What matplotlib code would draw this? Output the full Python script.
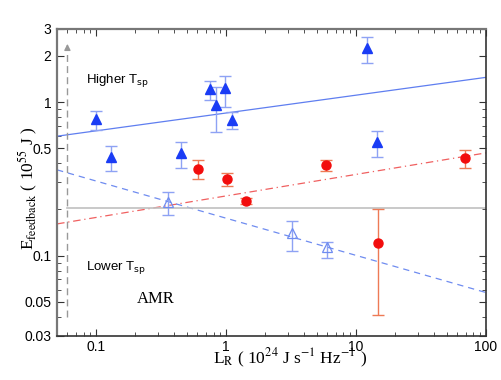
import numpy as np
import matplotlib
matplotlib.use('Agg')
from matplotlib import pyplot as plt
from matplotlib.ticker import NullFormatter, LogLocator

# filled blue triangles (higher T_sp)
hi_x = [0.10, 0.13, 0.45, 0.75, 0.84, 0.98, 1.11, 12.1, 14.5]
hi_y = [0.775, 0.44, 0.467, 1.21, 0.956, 1.23, 0.765, 2.24, 0.55]
hi_lo = [0.658, 0.357, 0.373, 1.03, 0.64, 0.93, 0.67, 1.79, 0.44]
hi_up = [0.874, 0.518, 0.55, 1.37, 1.25, 1.47, 0.86, 2.64, 0.65]

# open blue triangles (lower T_sp)
lo_x = [0.357, 3.21, 6.0]
lo_y = [0.224, 0.141, 0.113]
lo_lo = [0.185, 0.108, 0.097]
lo_up = [0.26, 0.169, 0.123]

# red circles
rd_x = [0.608, 1.016, 1.42, 5.86, 14.8, 68.8]
rd_y = [0.367, 0.316, 0.227, 0.39, 0.121, 0.433]
rd_lo = [0.316, 0.285, 0.218, 0.357, 0.041, 0.373]
rd_up = [0.42, 0.346, 0.237, 0.42, 0.20, 0.488]

# fitted lines: (x0, x1), (y0, y1)
fit_hi = ([0.05, 100], [0.60, 1.45])
fit_rd = ([0.05, 100], [0.161, 0.467])
fit_lo = ([0.05, 100], [0.362, 0.0575])

y_ticks = [0.03, 0.05, 0.1, 0.5, 1, 2, 3]
y_tick_labels = ['0.03', '0.05', '0.1', '0.5', '1', '2', '3']
x_ticks = [0.1, 1, 10, 100]
x_tick_labels = ['0.1', '1', '10', '100']

plt.rcParams['font.family'] = ['Liberation Sans', 'DejaVu Sans']
plt.rcParams['mathtext.fontset'] = 'stix'

fig = plt.figure(figsize=(5.01, 3.8), dpi=100)
ax = fig.add_axes([0.114, 0.116, 0.856, 0.808])
ax.set_xscale('log')
ax.set_yscale('log')

blue = '#1a3cf5'
blue_err = '#8ea2f4'
red = '#f20d0d'
red_err = '#ee7a55'

# lines
ax.plot(*fit_hi, color='#5f7ef0', lw=0.9)
ax.plot(*fit_rd, color='#f06060', lw=0.9, ls=(0, (6, 3, 1, 3)))
ax.plot(*fit_lo, color='#6f8cf0', lw=0.9, ls=(0, (5, 4)))
ax.plot([0.06, 100], [0.205, 0.205], color='#c0c0c0', lw=1.2)

# vertical dashed arrow
ax.plot([0.06, 0.06], [0.04, 2.2], color='#999999', lw=1.0, ls=(0, (5, 3)))
ax.annotate('', xy=(0.06, 2.5), xytext=(0.06, 2.1),
            arrowprops=dict(arrowstyle='-|>', color='#999999', lw=1.0,
                            mutation_scale=9))

def err(y, lo, up):
    y = np.array(y)
    return [y - np.array(lo), np.array(up) - y]

ax.errorbar(hi_x, hi_y, yerr=err(hi_y, hi_lo, hi_up), fmt='none',
            ecolor=blue_err, elinewidth=1.0, capsize=4, capthick=1.0)
ax.plot(hi_x, hi_y, '^', color=blue, ms=7.5, mec=blue)

ax.errorbar(lo_x, lo_y, yerr=err(lo_y, lo_lo, lo_up), fmt='none',
            ecolor=blue_err, elinewidth=1.0, capsize=4, capthick=1.0)
ax.plot(lo_x, lo_y, '^', mfc='none', mec='#6f8cf0', ms=7.5, mew=0.9)

ax.errorbar(rd_x, rd_y, yerr=err(rd_y, rd_lo, rd_up), fmt='none',
            ecolor=red_err, elinewidth=1.0, capsize=4, capthick=1.0)
ax.plot(rd_x, rd_y, 'o', color=red, ms=6.5, mec=red)

ax.set_xlim(0.05, 100)
ax.set_ylim(0.03, 3)

ax.set_xticks(x_ticks)
ax.set_xticklabels(x_tick_labels)
ax.set_yticks(y_ticks)
ax.set_yticklabels(y_tick_labels)
ax.xaxis.set_minor_locator(LogLocator(base=10, subs=np.arange(2, 10)))
ax.yaxis.set_minor_locator(LogLocator(base=10, subs=np.arange(2, 10)))
ax.xaxis.set_minor_formatter(NullFormatter())
ax.yaxis.set_minor_formatter(NullFormatter())
ax.tick_params(which='both', direction='in', top=True, right=True,
               labelsize=10, color='#333333')
ax.tick_params(which='major', length=5)
ax.tick_params(which='minor', length=3)
ax.tick_params(axis='x', pad=3)
ax.tick_params(axis='y', pad=4)

for side in ['top', 'left']:
    ax.spines[side].set_color('#777777')
    ax.spines[side].set_linewidth(1.6)
for side in ['bottom', 'right']:
    ax.spines[side].set_color('#333333')
    ax.spines[side].set_linewidth(1.2)

ax.set_xlabel(r'L$_{\rm R}$ ( 10$^{24}$ J s$^{-1}$ Hz$^{-1}$ )',
              family='Liberation Serif', fontsize=12.5)
ax.xaxis.set_label_coords(0.543, -0.035)
ax.set_ylabel(r'E$_{\rm feedback}$ ( 10$^{55}$ J )',
              family='Liberation Serif', fontsize=12.5)
ax.yaxis.set_label_coords(-0.04, 0.48)

ax.text(0.083, 1.33, r'Higher T$_{\rm sp}$', fontsize=9.5,
        math_fontfamily='dejavusans')
ax.text(0.083, 0.081, r'Lower T$_{\rm sp}$', fontsize=9.5,
        math_fontfamily='dejavusans')
ax.text(0.205, 0.0495, 'AMR', family='Liberation Serif', fontsize=12)

fig.savefig('out.png', dpi=100)
